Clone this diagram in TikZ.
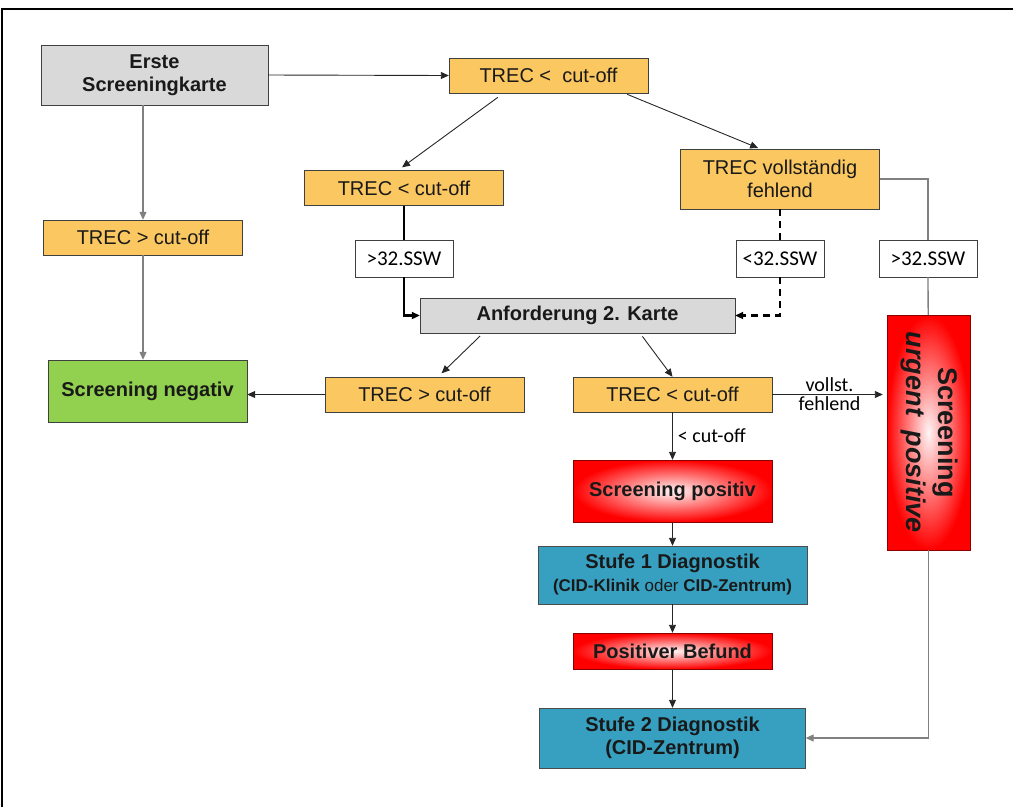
\documentclass[tikz,border=0pt]{standalone}
\usepackage{fontspec}
\setmainfont{Liberation Sans}
\newfontfamily\calibri{Carlito}
\usepackage{graphicx}
\usepackage{tikz}
\usetikzlibrary{arrows.meta,positioning}

\definecolor{trecorange}{RGB}{250,199,96}
\definecolor{cardgrey}{RGB}{217,217,217}
\definecolor{neggreen}{RGB}{146,208,80}
\definecolor{diagblue}{RGB}{55,160,192}
\definecolor{linegrey}{RGB}{128,128,128}

\tikzset{
  box/.style={draw=black!75, inner sep=0pt, align=center, text=black!90,
    font=\fontsize{20}{23}\selectfont},
  trec/.style={box, fill=trecorange, minimum width=199pt, minimum height=35pt},
  card/.style={box, fill=cardgrey, font=\fontsize{20}{23}\selectfont\bfseries},
  ssw/.style={draw=black!75, fill=white, inner sep=0pt, minimum height=37pt,
    font=\calibri\fontsize{21}{24}\selectfont},
  alarm/.style={box, draw=red!55!black, inner color=red!4, outer color=red,
    font=\fontsize{20}{23}\selectfont\bfseries},
  diag/.style={box, fill=diagblue, draw=black!70, font=\fontsize{20}{23}\selectfont\bfseries},
  edgelabel/.style={font=\calibri\fontsize{20}{22}\selectfont, inner sep=2pt},
  greyline/.style={draw=linegrey, line width=1.3pt},
  thinline/.style={draw=black!85, line width=0.9pt},
  boldline/.style={draw=black, line width=2.3pt},
}

\begin{document}
\begin{tikzpicture}[x=1pt, y=-1pt, node distance=80pt, >={Triangle[length=8pt,width=7pt]}]
  \useasboundingbox (0,0) rectangle (1013,807);
  \draw[line width=2.5pt] (2,807) -- (2,9) -- (1013,9);

  % first card and its three outcomes
  \node[card, minimum width=227pt, minimum height=60pt] (1) at (154.5,75) {Erste\\Screeningkarte};
  \node[trec] (2) at (548.5,75.5) {TREC <\ \ cut-off};
  \node[trec] (3) at (404,188) {TREC < cut-off};
  \node[trec, minimum height=60pt] (4) at (780,179) {TREC vollständig\\fehlend};
  \node[trec] (5) at (143,237.5) {TREC > cut-off};

  \node[ssw, minimum width=98pt] (6) at (404,258.5) {>32.SSW};
  \node[ssw, minimum width=88pt] (7) at (780,258.5) {<32.SSW};
  \node[ssw, minimum width=98pt] (8) at (928,258.5) {>32.SSW};

  % second card
  \node[card, minimum width=315pt, minimum height=35pt] (9) at (577.5,315.5) {Anforderung 2. Karte};
  \node[alarm, minimum width=83pt, minimum height=235pt] (10) at (928.5,432.5)
    {\rotatebox{-90}{\fontsize{27}{30}\selectfont\begin{tabular}{@{}c@{}}Screening\\[2pt] \textit{urgent\ \ positive}\end{tabular}}};
  \node[trec] (11) at (424.5,394.5) {TREC > cut-off};
  \node[trec] (12) at (672.5,394.5) {TREC < cut-off};
  \node[box, fill=neggreen, font=\fontsize{20}{23}\selectfont\bfseries,
    minimum width=199pt, minimum height=62pt] (14) at (147.5,391) {Screening negativ};

  % diagnostics
  \node[alarm, minimum width=199pt, minimum height=62pt] (13) at (672.5,491) {Screening positiv};
  \node[diag, minimum width=269pt, minimum height=58pt, below of=13, yshift=-4pt] (15)
    {Stufe 1 Diagnostik\\{\fontsize{17}{20}\selectfont(CID-Klinik {\mdseries oder} CID-Zentrum)}};
  \node[alarm, minimum width=199pt, minimum height=36pt, below of=15, yshift=4pt] (16) {Positiver Befund};
  \node[diag, minimum width=266pt, minimum height=60pt, below of=16, yshift=-7pt] (17)
    {Stufe 2 Diagnostik\\(CID-Zentrum)};

  \draw[thinline, ->] (1.east) -- (2.west);
  \draw[greyline, ->] (5 |- 1.south) -- (5.north);
  \draw[greyline, ->] (5.south) -- (5.south |- 14.north);
  \draw[thinline, ->, shorten <=7pt, shorten >=5pt] ([xshift=-45pt]2.south) -- ([xshift=-6pt]3.north);
  \draw[thinline, ->, shorten <=3pt, shorten >=2pt] ([xshift=76pt]2.south) -- ([xshift=-20pt]4.north);

  \draw[boldline] (3) -- (6);
  \draw[boldline, ->] (6) |- (9.west);
  \draw[boldline, dash pattern=on 7pt off 5pt] (4) -- (7);
  \draw[boldline, dash pattern=on 7pt off 5pt, ->] (7) |- (9.east);
  \draw[greyline] (4.east) -| (8.north);
  \draw[greyline] (8) -- (10);

  \draw[thinline, ->, shorten <=4pt, shorten >=5pt] ([xshift=-94.5pt]9.south) -- ([xshift=13.5pt]11.north);
  \draw[thinline, ->, shorten <=4pt] ([xshift=62.5pt]9.south) -- (12.north);
  \draw[thinline, ->] (11.west) -- (11.west -| 14.east);
  \draw[thinline, ->, shorten >=4pt] (12.east) -- node[edgelabel, above] {vollst.}
    node[edgelabel, below] {fehlend} (12.east -| 10.west);
  \draw[thinline, ->] (12.south) -- node[edgelabel, right, inner sep=5pt] {< cut-off} (13.north);

  \draw[thinline, ->] (13.south) -- (15.north);
  \draw[thinline, ->] (15.south) -- (16.north);
  \draw[thinline, ->] (16.south) -- (17.north);
  \draw[greyline, ->] (10.south) |- (17.east);
\end{tikzpicture}
\end{document}
